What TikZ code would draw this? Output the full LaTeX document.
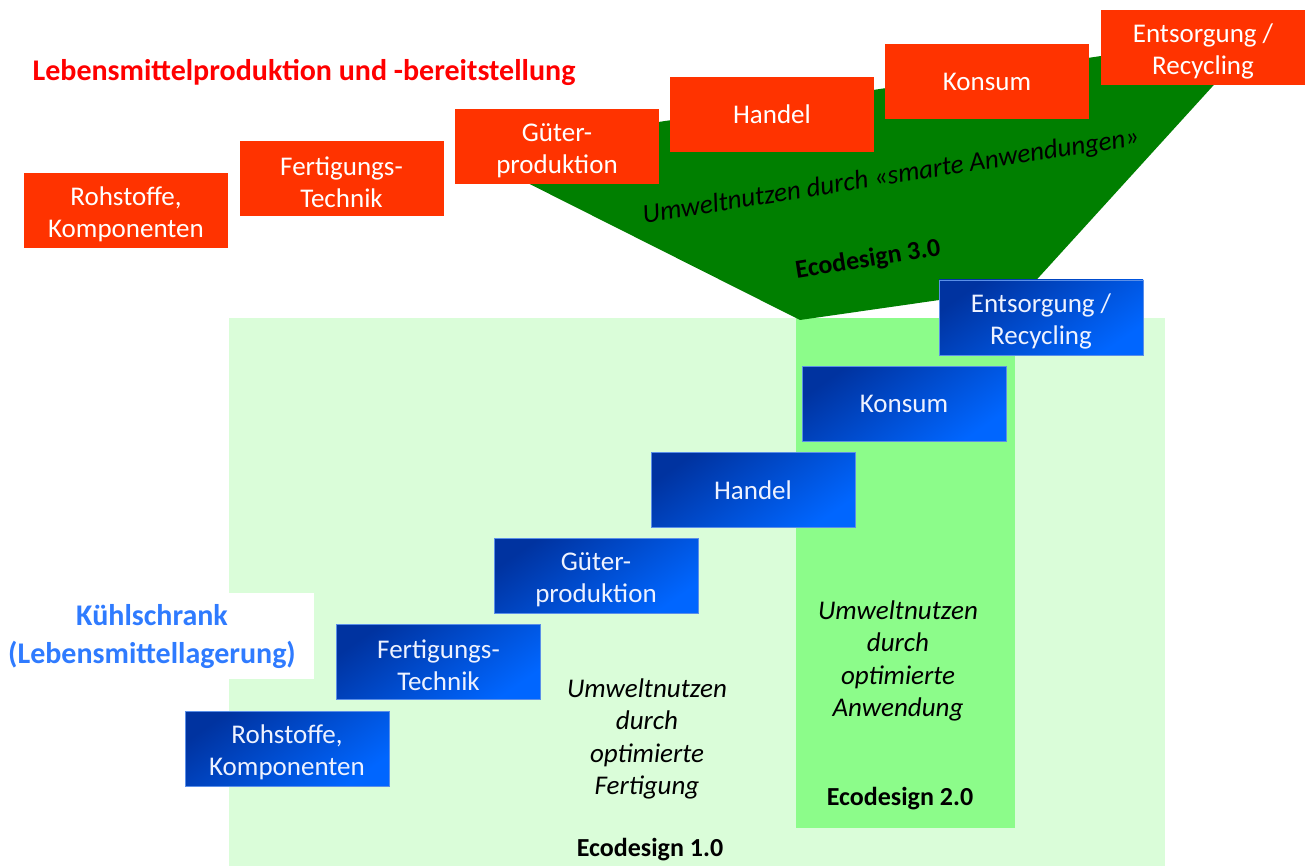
\documentclass[tikz,border=0pt]{standalone}
\usepackage{fontspec}
\setmainfont{Carlito}
\newcommand{\mytopstrut}{\rule{0pt}{26pt}}
\begin{document}
\begin{tikzpicture}[x=1pt,y=-1pt,
  redbox/.style={fill=boxred, minimum width=204pt, minimum height=75pt, inner sep=0pt, align=center, text=white, font=\fontsize{27}{32}\selectfont},
  bluebox/.style={draw=blueedge, line width=0.8pt, top color=bluedark, bottom color=bluelight, shading angle=35, minimum width=204pt, minimum height=75pt, inner sep=0pt, align=center, text=bluetext, font=\fontsize{27}{32}\selectfont},
  itlabel/.style={align=center, font=\fontsize{27}{32.5}\selectfont\itshape, text=black},
  edlabel/.style={font=\fontsize{26}{30}\selectfont\bfseries, text=black}]
\definecolor{boxred}{HTML}{FF3300}
\definecolor{titlered}{HTML}{FF0000}
\definecolor{bluedark}{HTML}{0033A0}
\definecolor{bluelight}{HTML}{0066FF}
\definecolor{blueedge}{HTML}{5B8FE8}
\definecolor{bluetext}{HTML}{EEF2FF}
\definecolor{lightgreen}{HTML}{DAFDD9}
\definecolor{midgreen}{HTML}{8CFC8A}
\definecolor{darkgreen}{HTML}{007F00}
\definecolor{fridgeblue}{HTML}{2F7BFF}
\useasboundingbox[fill=white] (0,0) rectangle (1309,866);
% background areas
\fill[lightgreen] (229,318) rectangle (1165,866);
\fill[midgreen] (796,318) rectangle (1015,828);
\fill[white] (229,593) rectangle (314,679);
\fill[darkgreen] (464,151) -- (1262,32) -- (1030,287) -- (800,320) -- cycle;
% red chain
\node[redbox] (r1) at (126,211) {\mytopstrut Rohstoffe,\\Komponenten};
\node[redbox] (r2) at (341.5,179) {\mytopstrut Fertigungs-\\Technik};
\node[redbox] (r3) at (557,147) {\mytopstrut Güter-\\produktion};
\node[redbox] (r4) at (772,114.5) {Handel};
\node[redbox] (r5) at (987,81.5) {Konsum};
\node[redbox] (r6) at (1203,47.5) {\mytopstrut Entsorgung /\\Recycling};
% blue chain
\node[bluebox] (b1) at (287,748.5) {\mytopstrut Rohstoffe,\\Komponenten};
\node[bluebox] (b2) at (438.5,662) {\mytopstrut Fertigungs-\\Technik};
\node[bluebox] (b3) at (596,576) {\mytopstrut Güter-\\produktion};
\node[bluebox] (b4) at (753,490) {Handel};
\node[bluebox] (b5) at (904,404) {Konsum};
\node[bluebox] (b6) at (1041,317.5) {\mytopstrut Entsorgung /\\Recycling};
% titles
\node[font=\fontsize{30}{36}\selectfont\bfseries, text=titlered] (title) at (304,72) {Lebensmittelproduktion und -bereitstellung};
\node[font=\fontsize{30}{38}\selectfont\bfseries, text=fridgeblue, align=center] (fridge) at (152,637) {Kühlschrank\\(Lebensmittellagerung)};
% labels
\node[itlabel] (u1) at (647,739) {Umweltnutzen\\durch\\optimierte\\Fertigung};
\node[itlabel] (u2) at (898,661) {Umweltnutzen\\durch\\optimierte\\Anwendung};
\node[itlabel, rotate=9] (u3) at (891,177) {Umweltnutzen durch «smarte Anwendungen»};
\node[edlabel] (e1) at (650,850) {Ecodesign 1.0};
\node[edlabel] (e2) at (900,799) {Ecodesign 2.0};
\node[edlabel, rotate=9] (e3) at (868,260) {Ecodesign 3.0};
\end{tikzpicture}
\end{document}
